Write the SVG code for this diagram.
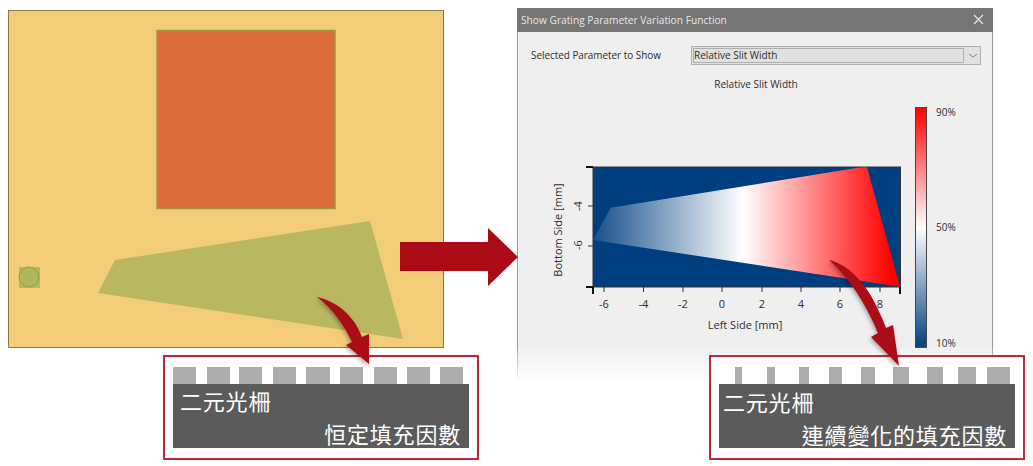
<svg xmlns="http://www.w3.org/2000/svg" width="1033" height="466" viewBox="0 0 1033 466">
<style>
.ui{font-family:"Open Sans","Noto Sans","Liberation Sans",sans-serif;font-size:10px;fill:#2e2e2e}
.ax{font-size:11px}
.cjk{font-family:"Noto Sans CJK TC","Noto Sans",sans-serif;font-size:22px;fill:#fff;letter-spacing:.8px}
.arrow{fill:#ab0a17}
.box{fill:#fff;stroke:#c0283c;stroke-width:2}
.bar{fill:#adadad}
.base{fill:#5b5b5b}
.tick{stroke:#333;stroke-width:1;fill:none}
.ctick{stroke:#111;stroke-width:2;fill:none}
</style>
<defs>
<linearGradient id="plotGrad" gradientUnits="userSpaceOnUse" x1="593" y1="0" x2="900" y2="0">
<stop offset="0" stop-color="#164f8a"/><stop offset=".49" stop-color="#fff"/><stop offset=".97" stop-color="#f00"/><stop offset="1" stop-color="#f00"/>
</linearGradient>
<linearGradient id="barGrad" x1="0" y1="0" x2="0" y2="1">
<stop offset="0" stop-color="#f00"/><stop offset=".5" stop-color="#fff"/><stop offset="1" stop-color="#003f7f"/>
</linearGradient>
<linearGradient id="fade" x1="0" y1="0" x2="0" y2="1">
<stop offset="0" stop-color="#fff" stop-opacity="0"/><stop offset="1" stop-color="#fff"/>
</linearGradient>
<filter id="shadow" x="-30%" y="-30%" width="160%" height="160%">
<feDropShadow dx="-1" dy="2" stdDeviation="2" flood-color="#000" flood-opacity=".35"/>
</filter>
</defs>

<g id="layout-panel">
<rect x="8.500" y="10.500" width="435" height="337" fill="#f3cc78" stroke="#8a7a50"/>
<rect x="157" y="30.500" width="178" height="178" fill="#db6c3c" stroke="#a8943f" stroke-width="1.500"/>
<polygon points="115,260 370,221 403,339 98,293" fill="#b9b75f"/>
<rect x="19" y="267" width="21" height="21" fill="#b9b75f"/>
<circle cx="29" cy="277" r="10" fill="#aeb85a" stroke="#8f9f4a"/>
</g>

<g id="dialog">
<rect x="517.500" y="8.500" width="475" height="372" fill="#efefef" stroke="#999"/>
<rect x="517" y="8" width="476" height="24" fill="#757575"/>
<text class="ui" x="521" y="24" style="fill:#e8e8e8;font-size:10.200px">Show Grating Parameter Variation Function</text>
<path d="M974 15l9 9M983 15l-9 9" stroke="#e8e8e8" stroke-width="1.200" fill="none"/>
<text class="ui" x="531" y="59" style="font-size:9.900px">Selected Parameter to Show</text>
<rect x="691.500" y="46.500" width="289" height="18" fill="#e1e1e1" stroke="#b0b0b0"/>
<rect x="693.500" y="48.500" width="270" height="14" fill="none" stroke="#555" stroke-width=".7" stroke-dasharray="1 1"/>
<text class="ui" x="694" y="59">Relative Slit Width</text>
<path d="M969 54l4 3 4-3" stroke="#888" fill="none"/>
<text class="ui" x="756" y="88" text-anchor="middle">Relative Slit Width</text>
<rect x="593" y="167" width="307.500" height="120" fill="#003f7f" stroke="#333"/>
<polygon points="610.700,207.700 593,240 900,286.700 867,167.300 858,167.700" fill="url(#plotGrad)"/>
<path class="ctick" d="M586 167h7M586 287h7M593 287v7M900 287v7"/>
<path class="tick" d="M588 206h5M588 246h5M604 287v5M643.500 287v5M683 287v5M722 287v5M762 287v5M801 287v5M840 287v5M880 287v5"/>
<g text-anchor="middle">
<text class="ui ax" x="604" y="308">-6</text><text class="ui ax" x="643.500" y="308">-4</text><text class="ui ax" x="683" y="308">-2</text><text class="ui ax" x="722" y="308">0</text><text class="ui ax" x="762" y="308">2</text><text class="ui ax" x="801" y="308">4</text><text class="ui ax" x="840" y="308">6</text><text class="ui ax" x="880" y="308">8</text>
<text class="ui ax" x="745" y="329">Left Side [mm]</text>
<text class="ui ax" transform="translate(582 206) rotate(-90)">-4</text>
<text class="ui ax" transform="translate(582 245) rotate(-90)">-6</text>
<text class="ui ax" transform="translate(562 230) rotate(-90)">Bottom Side [mm]</text>
</g>
<rect x="915.500" y="107.500" width="11" height="240" fill="url(#barGrad)" stroke="#444"/>
<text class="ui" x="936" y="116">90%</text>
<text class="ui" x="936" y="231">50%</text>
<text class="ui" x="936" y="347">10%</text>
<rect x="510" y="345" width="490" height="37" fill="url(#fade)"/>
</g>

<g id="grating-constant">
<rect class="box" x="164" y="356" width="314" height="103"/>
<rect class="bar" x="173" y="367" width="23" height="17"/><rect class="bar" x="207" y="367" width="23" height="17"/><rect class="bar" x="239" y="367" width="23" height="17"/><rect class="bar" x="273" y="367" width="23" height="17"/><rect class="bar" x="306" y="367" width="24" height="17"/><rect class="bar" x="340" y="367" width="23" height="17"/><rect class="bar" x="374" y="367" width="23" height="17"/><rect class="bar" x="407" y="367" width="23" height="17"/><rect class="bar" x="440" y="367" width="23" height="17"/>
<rect class="base" x="173" y="384" width="296" height="64"/>
<text class="cjk" x="180" y="410">二元光柵</text>
<text class="cjk" x="461" y="443" text-anchor="end">恒定填充因數</text>
</g>

<g id="grating-variable">
<rect class="box" x="710" y="356" width="314" height="103"/>
<rect class="bar" x="735" y="367" width="7" height="17"/><rect class="bar" x="767" y="367" width="8" height="17"/><rect class="bar" x="799" y="367" width="10" height="17"/><rect class="bar" x="829" y="367" width="13" height="17"/><rect class="bar" x="861" y="367" width="14" height="17"/><rect class="bar" x="893" y="367" width="16" height="17"/><rect class="bar" x="927" y="367" width="16" height="17"/><rect class="bar" x="958" y="367" width="18" height="17"/><rect class="bar" x="987" y="367" width="23" height="17"/>
<rect class="base" x="719" y="384" width="296" height="64"/>
<text class="cjk" x="723" y="411">二元光柵</text>
<text class="cjk" x="1007" y="444" text-anchor="end">連續變化的填充因數</text>
</g>

<g id="connectors">
<polygon class="arrow" points="400,242 488,242 488,228 518,257 488,286 488,271 400,271"/>
<path class="arrow" filter="url(#shadow)" d="M317 297C338 302 354 316 362 337L369 334L369 364L346 345L352 342C344 325 332 308 317 297Z"/>
<path class="arrow" filter="url(#shadow)" d="M829 260C853 266 872 290 886 328L893 325L899 366L871 337L878 333C866 305 850 278 829 260Z"/>
</g>
</svg>
